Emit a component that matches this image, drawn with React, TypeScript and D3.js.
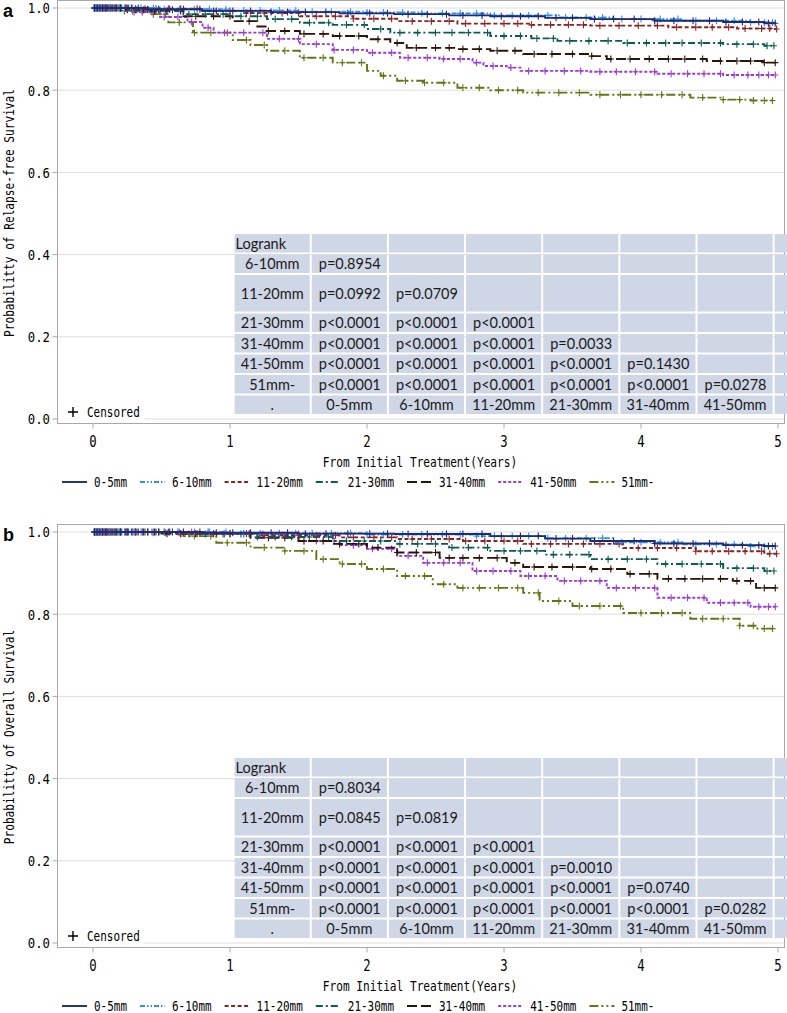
import React from 'react';
import * as d3 from 'd3';

// ---------- data ----------
const groups = ['0-5mm', '6-10mm', '11-20mm', '21-30mm', '31-40mm', '41-50mm', '51mm-'];
const colors = ['#1c2a78', '#2f8ff0', '#8e2222', '#0b5a55', '#2e1406', '#9a3ad8', '#657515'];
const dashes = ['', '5 2 1.5 2 1.5 2', '4 2.5', '7 3 2 3', '10 4', '3 2', '9 3 2 3 2 3'];

const xTicks = [0, 1, 2, 3, 4, 5];
const yTicks = [0, 0.2, 0.4, 0.6, 0.8, 1.0];
const yTickLabels = ['0.0', '0.2', '0.4', '0.6', '0.8', '1.0'];

// Relapse-free survival step points [years, survival]
const rfs0: [number, number][] = [[0, 1], [0.4, 0.997], [0.8, 0.993], [1.3, 0.99], [1.8, 0.987], [2.2, 0.985], [2.6, 0.982], [2.9, 0.98], [3.3, 0.976], [3.63, 0.973], [4.1, 0.969], [4.6, 0.966], [4.9, 0.963]];
const rfs1: [number, number][] = [[0, 1], [0.5, 0.997], [1.0, 0.994], [1.5, 0.991], [2.0, 0.989], [2.4, 0.987], [2.9, 0.982], [3.4, 0.977], [3.8, 0.973], [4.3, 0.969], [4.8, 0.965]];
const rfs2: [number, number][] = [[0, 1], [0.3, 0.998], [0.78, 0.993], [1.1, 0.988], [1.51, 0.98], [1.9, 0.974], [2.22, 0.968], [2.66, 0.962], [3.2, 0.959], [3.63, 0.957], [4.2, 0.953], [4.7, 0.95], [4.95, 0.949]];
const rfs3: [number, number][] = [[0, 1], [0.3, 0.996], [0.66, 0.985], [1.0, 0.98], [1.27, 0.973], [1.51, 0.964], [1.75, 0.959], [2.0, 0.949], [2.17, 0.94], [2.9, 0.932], [3.2, 0.926], [3.39, 0.92], [3.87, 0.915], [4.6, 0.912], [4.9, 0.908]];
const rfs4: [number, number][] = [[0, 1], [0.25, 0.996], [0.42, 0.993], [0.66, 0.98], [1.02, 0.968], [1.2, 0.955], [1.27, 0.944], [1.51, 0.937], [1.75, 0.932], [2.0, 0.924], [2.17, 0.915], [2.29, 0.903], [2.66, 0.9], [2.9, 0.896], [3.14, 0.888], [3.63, 0.883], [3.75, 0.876], [4.48, 0.871], [4.9, 0.867]];
const rfs5: [number, number][] = [[0, 1], [0.3, 0.99], [0.49, 0.978], [0.69, 0.966], [0.8, 0.952], [0.88, 0.94], [1.27, 0.925], [1.51, 0.912], [1.75, 0.898], [2.0, 0.891], [2.24, 0.879], [2.53, 0.876], [2.77, 0.867], [2.85, 0.859], [3.02, 0.855], [3.12, 0.847], [3.63, 0.845], [4.12, 0.84], [4.6, 0.837]];
const rfs6: [number, number][] = [[0, 1], [0.2, 0.993], [0.42, 0.985], [0.55, 0.965], [0.73, 0.94], [1.02, 0.922], [1.15, 0.91], [1.27, 0.896], [1.51, 0.879], [1.75, 0.867], [2.0, 0.847], [2.1, 0.835], [2.22, 0.823], [2.41, 0.818], [2.66, 0.806], [2.9, 0.8], [3.14, 0.794], [3.63, 0.789], [4.36, 0.782], [4.6, 0.777], [4.8, 0.775]];

// Overall survival step points [years, survival]
const os0: [number, number][] = [[0, 1], [0.8, 0.998], [1.5, 0.996], [2.2, 0.995], [2.9, 0.99], [3.3, 0.984], [3.63, 0.978], [4.1, 0.972], [4.6, 0.968], [4.9, 0.966]];
const os1: [number, number][] = [[0, 1], [1.0, 0.997], [2.0, 0.994], [2.8, 0.99], [3.3, 0.985], [3.8, 0.975], [4.3, 0.97], [4.8, 0.965]];
const os2: [number, number][] = [[0, 1], [0.6, 0.996], [1.2, 0.992], [1.8, 0.987], [2.22, 0.983], [2.7, 0.978], [3.14, 0.971], [3.87, 0.961], [4.4, 0.953], [4.9, 0.947]];
const os3: [number, number][] = [[0, 1], [0.6, 0.995], [1.2, 0.988], [1.75, 0.978], [2.22, 0.971], [2.6, 0.962], [2.9, 0.954], [3.3, 0.945], [3.63, 0.934], [4.12, 0.922], [4.6, 0.912], [4.9, 0.905]];
const os4: [number, number][] = [[0, 1], [0.5, 0.996], [1.15, 0.986], [1.5, 0.978], [1.75, 0.971], [2.0, 0.962], [2.22, 0.95], [2.53, 0.937], [3.02, 0.925], [3.14, 0.915], [3.63, 0.91], [3.9, 0.898], [4.12, 0.886], [4.67, 0.881], [4.84, 0.864]];
const os5: [number, number][] = [[0, 1], [0.9, 0.995], [1.51, 0.978], [1.8, 0.968], [2.0, 0.959], [2.22, 0.942], [2.41, 0.925], [2.77, 0.905], [3.12, 0.893], [3.39, 0.881], [3.75, 0.864], [4.12, 0.84], [4.48, 0.828], [4.8, 0.818]];
const os6: [number, number][] = [[0, 1], [0.42, 0.998], [0.66, 0.99], [0.9, 0.974], [1.15, 0.962], [1.39, 0.954], [1.63, 0.934], [1.8, 0.922], [2.0, 0.91], [2.22, 0.893], [2.48, 0.873], [2.66, 0.864], [3.14, 0.852], [3.26, 0.832], [3.5, 0.82], [3.87, 0.803], [4.36, 0.789], [4.72, 0.772], [4.85, 0.765]];

// censoring times (years) per group
const cens0 = [0.01, 0.03, 0.05, 0.07, 0.09, 0.11, 0.14, 0.17, 0.2, 0.24, 0.28, 0.33, 0.4, 0.48, 0.56, 0.66, 0.78, 0.9, 1.02, 1.15, 1.3, 1.42, 1.55, 1.7, 1.86, 2.02, 2.15, 2.3, 2.44, 2.58, 2.7, 2.84, 2.98, 3.12, 3.25, 3.38, 3.5, 3.66, 3.8, 3.95, 4.1, 4.24, 4.38, 4.5, 4.62, 4.74, 4.86, 4.93, 4.98];
const cens1 = [0.02, 0.04, 0.06, 0.09, 0.12, 0.15, 0.19, 0.23, 0.29, 0.35, 0.44, 0.52, 0.63, 0.74, 0.85, 0.97, 1.1, 1.22, 1.36, 1.48, 1.6, 1.74, 1.88, 2.0, 2.12, 2.26, 2.4, 2.55, 2.68, 2.8, 2.93, 3.06, 3.18, 3.32, 3.45, 3.6, 3.72, 3.86, 4.0, 4.14, 4.27, 4.4, 4.55, 4.68, 4.8, 4.9, 4.96];
const cens2 = [0.01, 0.03, 0.05, 0.08, 0.1, 0.13, 0.16, 0.2, 0.25, 0.31, 0.38, 0.46, 0.55, 0.64, 0.76, 0.88, 1.0, 1.12, 1.25, 1.38, 1.5, 1.63, 1.77, 1.9, 2.05, 2.18, 2.33, 2.47, 2.6, 2.72, 2.86, 3.0, 3.1, 3.2, 3.34, 3.47, 3.58, 3.7, 3.84, 3.98, 4.12, 4.26, 4.4, 4.52, 4.64, 4.76, 4.88, 4.94, 4.99];
const cens3 = [0.02, 0.04, 0.07, 0.1, 0.13, 0.17, 0.21, 0.26, 0.32, 0.4, 0.48, 0.58, 0.7, 0.82, 0.95, 1.08, 1.2, 1.33, 1.45, 1.58, 1.72, 1.85, 1.98, 2.1, 2.24, 2.37, 2.5, 2.62, 2.74, 2.88, 3.0, 3.12, 3.24, 3.36, 3.48, 3.62, 3.76, 3.9, 4.04, 4.18, 4.3, 4.44, 4.58, 4.7, 4.82, 4.92, 4.97];
const cens4 = [0.01, 0.03, 0.06, 0.09, 0.12, 0.16, 0.2, 0.25, 0.31, 0.37, 0.45, 0.54, 0.64, 0.75, 0.88, 1.0, 1.14, 1.28, 1.4, 1.54, 1.68, 1.8, 1.94, 2.08, 2.22, 2.36, 2.5, 2.6, 2.7, 2.82, 2.95, 3.08, 3.22, 3.35, 3.5, 3.64, 3.78, 3.92, 4.06, 4.2, 4.32, 4.45, 4.58, 4.7, 4.8, 4.9, 4.98];
const cens5 = [0.02, 0.05, 0.08, 0.11, 0.15, 0.19, 0.24, 0.3, 0.36, 0.43, 0.52, 0.62, 0.72, 0.84, 0.96, 1.1, 1.24, 1.36, 1.5, 1.63, 1.76, 1.9, 2.04, 2.18, 2.3, 2.44, 2.56, 2.68, 2.8, 2.92, 3.05, 3.18, 3.3, 3.44, 3.56, 3.7, 3.82, 3.96, 4.1, 4.22, 4.34, 4.46, 4.58, 4.68, 4.78, 4.86, 4.93, 4.98];
const cens6 = [0.01, 0.04, 0.07, 0.1, 0.14, 0.18, 0.23, 0.29, 0.36, 0.44, 0.53, 0.63, 0.74, 0.86, 0.98, 1.12, 1.25, 1.4, 1.54, 1.68, 1.82, 1.96, 2.12, 2.28, 2.42, 2.56, 2.7, 2.82, 2.96, 3.1, 3.25, 3.4, 3.55, 3.7, 3.85, 4.0, 4.15, 4.3, 4.45, 4.6, 4.72, 4.82, 4.9, 4.96];

const rfsSteps = [rfs0, rfs1, rfs2, rfs3, rfs4, rfs5, rfs6];
const osSteps = [os0, os1, os2, os3, os4, os5, os6];
const censTimes = [cens0, cens1, cens2, cens3, cens4, cens5, cens6];

// Log-rank table
const rowLabels = ['Logrank', '6-10mm', '11-20mm', '21-30mm', '31-40mm', '41-50mm', '51mm-', '.'];
const colLabels = ['0-5mm', '6-10mm', '11-20mm', '21-30mm', '31-40mm', '41-50mm'];
const pRFS = [
  ['p=0.8954'],
  ['p=0.0992', 'p=0.0709'],
  ['p<0.0001', 'p<0.0001', 'p<0.0001'],
  ['p<0.0001', 'p<0.0001', 'p<0.0001', 'p=0.0033'],
  ['p<0.0001', 'p<0.0001', 'p<0.0001', 'p<0.0001', 'p=0.1430'],
  ['p<0.0001', 'p<0.0001', 'p<0.0001', 'p<0.0001', 'p<0.0001', 'p=0.0278'],
];
const pOS = [
  ['p=0.8034'],
  ['p=0.0845', 'p=0.0819'],
  ['p<0.0001', 'p<0.0001', 'p<0.0001'],
  ['p<0.0001', 'p<0.0001', 'p<0.0001', 'p=0.0010'],
  ['p<0.0001', 'p<0.0001', 'p<0.0001', 'p<0.0001', 'p=0.0740'],
  ['p<0.0001', 'p<0.0001', 'p<0.0001', 'p<0.0001', 'p<0.0001', 'p=0.0282'],
];

// ---------- layout ----------
const W = 787;
const H = 1013;
const FRAME_L = 57.5;
const FRAME_R = 784.5;
const MONO = "'DejaVu Sans Mono', 'Liberation Mono', monospace";
const CW = 6.7; // char width of the condensed axis font

const STxt = (props: any) => {
  const { children, size = 14.5, cw = CW, ...rest } = props;
  const s = String(children);
  return (
    <text fontFamily={MONO} fontSize={size} fill="#000" textLength={s.length * cw} lengthAdjust="spacingAndGlyphs" {...rest}>
      {s}
    </text>
  );
};

function survAt(steps: [number, number][], t: number) {
  const i = d3.bisector((d: [number, number]) => d[0]).right(steps, t) - 1;
  return steps[Math.max(0, i)][1];
}

function Panel({ off, letter, yTitle, steps, pvals }: any) {
  const x = d3.scaleLinear().domain([0, 5]).range([93, 778]);
  const y = d3.scaleLinear().domain([0, 1]).range([off + 419, off + 8]);
  const frameTop = off + 0.5;
  const frameBot = off + 423.5;

  const line = d3
    .line<[number, number]>()
    .x((d) => x(d[0]))
    .y((d) => y(d[1]))
    .curve(d3.curveStepAfter);

  // table geometry
  const tLeft = 233.6;
  const colW = 77.15;
  const tTop = off + 233;
  const rowH = rowLabels.map((_, i) => (i === 2 ? 38.5 : 20.5));
  const rowY: number[] = [];
  rowH.reduce((acc, h, i) => {
    rowY[i] = acc;
    return acc + h;
  }, tTop);

  // legend layout
  const legItems: { x: number; tx: number }[] = [];
  let lx = 62;
  groups.forEach((g) => {
    legItems.push({ x: lx, tx: lx + 32 });
    lx += 32 + g.length * 6.6 + 13;
  });

  return (
    <g>
      {/* gridlines */}
      {yTicks.map((t) => (
        <line key={'g' + t} x1={FRAME_L} x2={FRAME_R} y1={y(t)} y2={y(t)} stroke="#dedede" strokeWidth={1} />
      ))}
      {/* frame */}
      <rect x={FRAME_L} y={frameTop} width={FRAME_R - FRAME_L} height={frameBot - frameTop} fill="none" stroke="#a8a8a8" strokeWidth={1} />
      {/* y ticks */}
      {yTicks.map((t, i) => (
        <g key={'yt' + t}>
          <line x1={FRAME_L - 5} x2={FRAME_L} y1={y(t)} y2={y(t)} stroke="#a8a8a8" />
          <STxt x={50} y={y(t) + 5.3} textAnchor="end" size={14.5} cw={7.4}>
            {yTickLabels[i]}
          </STxt>
        </g>
      ))}
      {/* x ticks */}
      {xTicks.map((t) => (
        <g key={'xt' + t}>
          <line x1={x(t)} x2={x(t)} y1={frameBot} y2={frameBot + 5} stroke="#a8a8a8" />
          <STxt x={x(t)} y={off + 442} textAnchor="middle" dominantBaseline="central" size={15} cw={7.4}>
            {String(t)}
          </STxt>
        </g>
      ))}
      <STxt x={(FRAME_L + FRAME_R) / 2 - 1} y={off + 462} textAnchor="middle" dominantBaseline="central">
        From Initial Treatment(Years)
      </STxt>
      <STxt
        x={0}
        y={0}
        textAnchor="middle"
        dominantBaseline="central"
        transform={`translate(9,${off + 213}) rotate(-90)`}
      >
        {yTitle}
      </STxt>
      <text x={3} y={off + 16.5} fontFamily="'Liberation Sans', Arial, sans-serif" fontWeight="bold" fontSize={18}>
        {letter}
      </text>

      {/* curves */}
      {steps
        .map((st: [number, number][], gi: number) => ({ st, gi }))
        .reverse()
        .map(({ st, gi }: any) => {
          const cs: number[] = censTimes[gi];
          const last = cs[cs.length - 1];
          const pts: [number, number][] = [...st, [last, st[st.length - 1][1]]];
          const marks = cs
            .map((c) => {
              const px = x(c);
              const py = y(survAt(st, c));
              return `M${px - 3},${py}h6M${px},${py - 3.5}v7`;
            })
            .join('');
          return (
            <g key={'c' + gi}>
              <path d={line(pts) || ''} fill="none" stroke={colors[gi]} strokeWidth={1.9} strokeDasharray={dashes[gi]} />
              <path d={marks} fill="none" stroke={colors[gi]} strokeWidth={1.1} />
            </g>
          );
        })}

      {/* censored legend */}
      <rect x={FRAME_L + 1} y={off + 403} width={86} height={18} fill="#fff" />
      <path d={`M${68},${off + 412}h10M${73},${off + 407}v10`} stroke="#000" strokeWidth={1.4} />
      <STxt x={87} y={off + 412} dominantBaseline="central" cw={6.6}>
        Censored
      </STxt>

      {/* table */}
      <g fontFamily="Lato, 'Open Sans', sans-serif" fontSize={14.5} fill="#1a1a1a">
        {rowLabels.map((rl, ri) =>
          d3.range(8).map((ci) => (
            <rect
              key={`r${ri}-${ci}`}
              x={tLeft + ci * colW + 1}
              y={rowY[ri] + 1}
              width={colW - 2}
              height={rowH[ri] - 2}
              fill="#cfd6e5"
            />
          ))
        )}
        {rowLabels.map((rl, ri) => (
          <text
            key={'rl' + ri}
            x={ri === 0 ? tLeft + 2 : tLeft + colW / 2}
            y={rowY[ri] + rowH[ri] / 2}
            textAnchor={ri === 0 ? 'start' : 'middle'}
            dominantBaseline="central"
          >
            {rl}
          </text>
        ))}
        {pvals.map((row: string[], ri: number) =>
          row.map((p, ci) => (
            <text
              key={`p${ri}-${ci}`}
              x={tLeft + (ci + 1) * colW + 8}
              y={rowY[ri + 1] + rowH[ri + 1] / 2}
              dominantBaseline="central"
            >
              {p}
            </text>
          ))
        )}
        {colLabels.map((c, ci) => (
          <text
            key={'cl' + ci}
            x={tLeft + (ci + 1.5) * colW}
            y={rowY[7] + rowH[7] / 2}
            textAnchor="middle"
            dominantBaseline="central"
          >
            {c}
          </text>
        ))}
      </g>

      {/* legend */}
      {groups.map((g, gi) => (
        <g key={'l' + gi}>
          <line
            x1={legItems[gi].x}
            x2={legItems[gi].x + 25}
            y1={off + 482}
            y2={off + 482}
            stroke={colors[gi]}
            strokeWidth={1.9}
            strokeDasharray={dashes[gi]}
          />
          <STxt x={legItems[gi].tx} y={off + 482} dominantBaseline="central" cw={6.6}>
            {g}
          </STxt>
        </g>
      ))}
    </g>
  );
}

export default function App() {
  return (
    <svg
      width={W}
      height={H}
      viewBox={`0 0 ${W} ${H}`}
      style={{ position: 'absolute', left: 0, top: 0, display: 'block', background: '#fff' }}
    >
      <rect width={W} height={H} fill="#fff" />
      <Panel off={0} letter="a" yTitle="Probabilitty of Relapse-free Survival" steps={rfsSteps} pvals={pRFS} />
      <Panel off={524} letter="b" yTitle="Probabilitty of Overall Survival" steps={osSteps} pvals={pOS} />
    </svg>
  );
}
